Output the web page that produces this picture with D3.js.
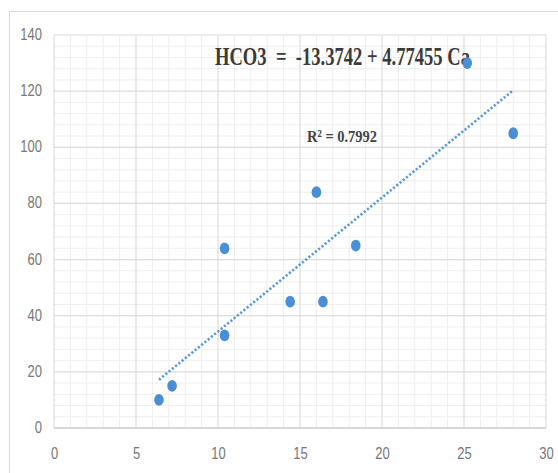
<!DOCTYPE html>
<html><head><meta charset="utf-8">
<script src="https://cdn.jsdelivr.net/npm/d3@7"></script>
<style>body{margin:0;background:#fff;}svg{display:block;}</style>
</head><body>
<svg id="c" width="558" height="473"></svg>
<script>
// Data
const caValues   = [6.4, 7.2, 10.4, 10.4, 14.4, 16.4, 18.4, 16.0, 25.2, 28.0];
const hco3Values = [10, 15, 64, 33, 45, 45, 65, 84, 130, 105];
const xTicks = [0, 5, 10, 15, 20, 25, 30];
const yTicks = [0, 20, 40, 60, 80, 100, 120, 140];
const trendIntercept = [-13.3742];
const trendSlope = [4.77455];
const equationText = ["HCO3  =  -13.3742 + 4.77455 Ca"];
const r2Text = ["R\u00B2 = 0.7992"];

const svg = d3.select("#c");
const m = {l:54, r:546, t:35, b:428};
const x = d3.scaleLinear().domain([0,30]).range([m.l, m.r]);
const y = d3.scaleLinear().domain([0,140]).range([m.b, m.t]);

// outer frame
svg.append("rect").attr("x",9.5).attr("y",11.5).attr("width",570).attr("height",480)
  .attr("fill","#fff").attr("stroke","#d9d9d9").attr("stroke-width",1);

// minor grid
const g = svg.append("g");
d3.range(0,31,1).forEach(v=>{ if(v%5) g.append("line").attr("x1",x(v)).attr("x2",x(v)).attr("y1",y(0)).attr("y2",y(140)).attr("stroke","#eeeeee").attr("stroke-width",1); });
d3.range(0,141,4).forEach(v=>{ if(v%20) g.append("line").attr("y1",y(v)).attr("y2",y(v)).attr("x1",x(0)).attr("x2",x(30)).attr("stroke","#eeeeee").attr("stroke-width",1); });
// major grid
xTicks.forEach(v=> g.append("line").attr("x1",x(v)).attr("x2",x(v)).attr("y1",y(0)).attr("y2",y(140)).attr("stroke","#dcdcdc").attr("stroke-width",1.2));
yTicks.forEach(v=> g.append("line").attr("y1",y(v)).attr("y2",y(v)).attr("x1",x(0)).attr("x2",x(30)).attr("stroke","#dcdcdc").attr("stroke-width",1.2));
g.append("line").attr("x1",x(0)).attr("x2",x(30)).attr("y1",y(0)).attr("y2",y(0)).attr("stroke","#d0d0d0").attr("stroke-width",1.6);

// axes via d3
const xa = svg.append("g").attr("transform",`translate(0,${y(0)})`)
  .call(d3.axisBottom(x).tickValues(xTicks).tickSize(0).tickPadding(0).tickFormat(d3.format("d")));
xa.select(".domain").remove();
xa.selectAll("text").attr("fill","#777").attr("font-family","Liberation Sans, Arial, sans-serif")
  .attr("font-size",13).attr("dy",null).attr("y",0)
  .attr("transform","translate(0,27) scale(1,1.3)").attr("dominant-baseline","middle");
const ya = svg.append("g").attr("transform",`translate(${x(0)},0)`)
  .call(d3.axisLeft(y).tickValues(yTicks).tickSize(0).tickPadding(0).tickFormat(d3.format("d")));
ya.select(".domain").remove();
ya.selectAll("text").attr("fill","#777").attr("font-family","Liberation Sans, Arial, sans-serif")
  .attr("font-size",13).attr("dy",null).attr("x",0)
  .attr("transform","translate(-12,0) scale(1,1.3)").attr("dominant-baseline","middle");

// trendline
const xmin = d3.min(caValues), xmax = d3.max(caValues);
svg.append("line")
  .attr("x1",x(xmin)).attr("y1",y(trendIntercept[0]+trendSlope[0]*xmin))
  .attr("x2",x(xmax)).attr("y2",y(trendIntercept[0]+trendSlope[0]*xmax))
  .attr("stroke","#5b9bd5").attr("stroke-width",2.6).attr("stroke-dasharray","2.2,2");

// labels
svg.append("text").text(equationText[0]).attr("x",0).attr("y",0)
  .attr("transform","translate(215,65) scale(1,1.45)")
  .attr("font-family","Liberation Serif, Times New Roman, serif").attr("font-weight","bold")
  .attr("font-size",17).attr("fill","#3a3a3a")
  .attr("textLength",255).attr("lengthAdjust","spacingAndGlyphs").style("white-space","pre");
svg.append("text").text(r2Text[0]).attr("x",0).attr("y",0)
  .attr("transform","translate(307,141.5) scale(1,1.35)")
  .attr("font-family","Liberation Serif, Times New Roman, serif").attr("font-weight","bold")
  .attr("font-size",13).attr("fill","#444")
  .attr("textLength",70).attr("lengthAdjust","spacingAndGlyphs");

// points
svg.append("g").selectAll("ellipse").data(caValues.map((c,i)=>[c,hco3Values[i]])).join("ellipse")
  .attr("cx",d=>x(d[0])).attr("cy",d=>y(d[1])).attr("rx",4.8).attr("ry",5.9)
  .attr("fill","#4a8fd6");
</script>
</body></html>
